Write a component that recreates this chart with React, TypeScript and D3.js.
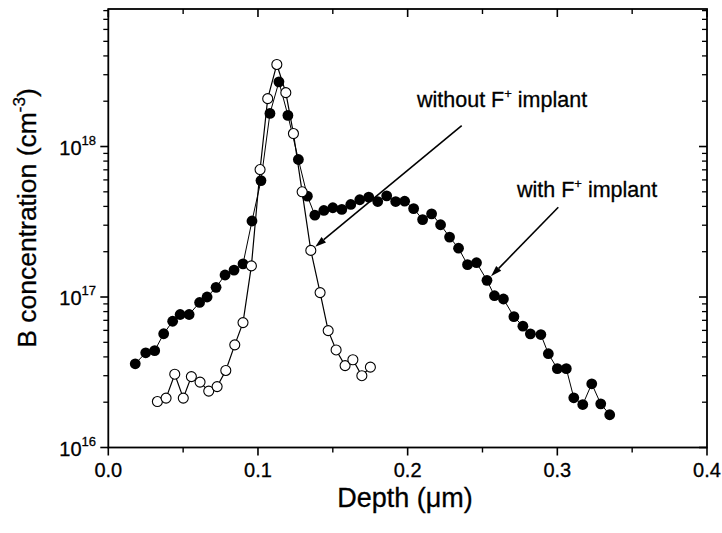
import React from "react";
import * as d3 from "d3";

const depthWith = [0.018,0.025,0.031,0.037,0.043,0.048,0.054,0.061,0.066,0.072,0.078,0.084,0.090,0.096,0.102,0.108,0.114,0.120,0.127,0.133,0.138,0.144,0.150,0.156,0.162,0.168,0.174,0.180,0.186,0.192,0.198,0.204,0.210,0.216,0.222,0.228,0.234,0.240,0.246,0.253,0.258,0.264,0.271,0.277,0.282,0.289,0.294,0.300,0.306,0.311,0.317,0.323,0.329,0.335];
const concWith = [3.6e16,4.26e16,4.4e16,5.7e16,6.9e16,7.65e16,7.65e16,9.2e16,1.0e17,1.16e17,1.40e17,1.51e17,1.66e17,3.2e17,5.94e17,1.66e18,2.69e18,1.61e18,8.2e17,4.68e17,3.5e17,3.76e17,3.92e17,3.82e17,4.12e17,4.43e17,4.61e17,4.31e17,4.70e17,4.31e17,4.33e17,3.87e17,3.27e17,3.57e17,3.02e17,2.5e17,2.11e17,1.64e17,1.69e17,1.29e17,1.02e17,9.7e16,7.4e16,6.4e16,5.69e16,5.63e16,4.2e16,3.34e16,3.34e16,2.14e16,1.93e16,2.65e16,1.95e16,1.65e16];

const depthWithout = [0.0328,0.0386,0.0444,0.0501,0.0555,0.0613,0.0671,0.0727,0.0785,0.0845,0.090,0.0956,0.1014,0.1065,0.1126,0.1186,0.1237,0.1295,0.1353,0.1415,0.1469,0.1522,0.1582,0.1634,0.1694,0.1751];
const concWithout = [2.02e16,2.13e16,3.07e16,2.13e16,2.96e16,2.72e16,2.37e16,2.54e16,3.25e16,4.81e16,6.76e16,1.61e17,7.03e17,2.08e18,3.51e18,2.28e18,1.22e18,5.0e17,2.04e17,1.07e17,5.98e16,4.45e16,3.5e16,3.83e16,3.0e16,3.42e16];

const xTicks = [0, 0.1, 0.2, 0.3, 0.4];
const xTickLabels = ["0.0", "0.1", "0.2", "0.3", "0.4"];
const xMinor = [0.05, 0.15, 0.25, 0.35];
const yTicks = [1e16, 1e17, 1e18];
const yTickExps = ["16", "17", "18"];

const FONT = "'Liberation Sans', Arial, Helvetica, sans-serif";

export default function App() {
  const W = 722, H = 533;
  const L = 108.3, R = 707, T = 9, B = 447.5;
  const x = d3.scaleLinear().domain([0, 0.4]).range([L, R]);
  const y = d3.scaleLog().domain([1e16, 8.2e18]).range([B, T]);

  const yMinor: number[] = [];
  for (let e = 16; e <= 18; e++) {
    for (let m = 2; m <= 9; m++) {
      const v = m * Math.pow(10, e);
      if (v <= 8.2e18) yMinor.push(v);
    }
  }

  const withPts = depthWith.map((d, i) => [d, concWith[i]] as [number, number]);
  const withoutPts = depthWithout.map((d, i) => [d, concWithout[i]] as [number, number]);
  const line = d3.line<[number, number]>().x(d => x(d[0])).y(d => y(d[1]));

  const arrow = (sx: number, sy: number, pd: number, pc: number, r: number) => {
    const px = x(pd), py = y(pc);
    const dx = sx - px, dy = sy - py;
    const len = Math.hypot(dx, dy);
    const ux = dx / len, uy = dy / len;
    const tx = px + ux * r, ty = py + uy * r;
    const hl = 11, hw = 3.5;
    const bx = tx + ux * hl, by = ty + uy * hl;
    const nx = -uy, ny = ux;
    return (
      <g>
        <line x1={sx} y1={sy} x2={bx} y2={by} stroke="#000" strokeWidth={1.6} />
        <polygon
          points={`${tx},${ty} ${bx + nx * hw},${by + ny * hw} ${bx - nx * hw},${by - ny * hw}`}
          fill="#000"
        />
      </g>
    );
  };

  const textStyle = { stroke: "#000", strokeWidth: 0.3 };

  return (
    <svg width={W} height={H} style={{ position: "absolute", left: 0, top: 0, background: "#fff" }} fontFamily={FONT}>
      <rect x={0} y={0} width={W} height={H} fill="#fff" />
      <rect x={L} y={T} width={R - L} height={B - T} fill="none" stroke="#000" strokeWidth={1.8} />
      {xTicks.map((t, i) => (
        <g key={"xt" + i}>
          <line x1={x(t)} x2={x(t)} y1={B} y2={B + 8} stroke="#000" strokeWidth={1.6} />
          <line x1={x(t)} x2={x(t)} y1={T} y2={T + 8} stroke="#000" strokeWidth={1.6} />
          <text x={x(t)} y={477} textAnchor="middle" fontSize={20} style={textStyle}>{xTickLabels[i]}</text>
        </g>
      ))}
      {xMinor.map((t, i) => (
        <g key={"xm" + i}>
          <line x1={x(t)} x2={x(t)} y1={B} y2={B + 5} stroke="#000" strokeWidth={1.4} />
          <line x1={x(t)} x2={x(t)} y1={T} y2={T + 5} stroke="#000" strokeWidth={1.4} />
        </g>
      ))}
      {yTicks.map((t, i) => (
        <g key={"yt" + i}>
          <line x1={L - 8} x2={L} y1={y(t)} y2={y(t)} stroke="#000" strokeWidth={1.6} />
          <line x1={R - 8} x2={R} y1={y(t)} y2={y(t)} stroke="#000" strokeWidth={1.6} />
          <text x={96} y={y(t) + 8} textAnchor="end" fontSize={20} style={textStyle}>
            10<tspan fontSize={13} dy={-10}>{yTickExps[i]}</tspan>
          </text>
        </g>
      ))}
      {yMinor.map((t, i) => (
        <g key={"ym" + i}>
          <line x1={L - 5} x2={L} y1={y(t)} y2={y(t)} stroke="#000" strokeWidth={1.3} />
          <line x1={R - 5} x2={R} y1={y(t)} y2={y(t)} stroke="#000" strokeWidth={1.3} />
        </g>
      ))}
      <text x={405} y={507} textAnchor="middle" fontSize={27} style={textStyle}>Depth (μm)</text>
      <text transform={`translate(36,218) rotate(-90)`} textAnchor="middle" fontSize={26.5} style={textStyle}>
        B concentration (cm<tspan fontSize={17} dy={-11}>-3</tspan><tspan dy={11}>)</tspan>
      </text>
      <path d={line(withPts) || ""} fill="none" stroke="#000" strokeWidth={1} />
      {withPts.map((p, i) => (
        <circle key={"f" + i} cx={x(p[0])} cy={y(p[1])} r={5.4} fill="#000" />
      ))}
      <path d={line(withoutPts) || ""} fill="none" stroke="#000" strokeWidth={1.2} />
      {withoutPts.map((p, i) => (
        <circle key={"o" + i} cx={x(p[0])} cy={y(p[1])} r={5} fill="#fff" stroke="#000" strokeWidth={1.1} />
      ))}
      <text x={417} y={107} fontSize={21.5} style={textStyle}>
        without F<tspan fontSize={13} dy={-9}>+</tspan><tspan dy={9}> implant</tspan>
      </text>
      <text x={517} y={197} fontSize={21.5} style={textStyle}>
        with F<tspan fontSize={13} dy={-9}>+</tspan><tspan dy={9}> implant</tspan>
      </text>
      {arrow(461.7, 125.7, depthWithout[18], concWithout[18], 5.8)}
      {arrow(558.3, 207.3, depthWith[39], concWith[39], 5.8)}
    </svg>
  );
}
